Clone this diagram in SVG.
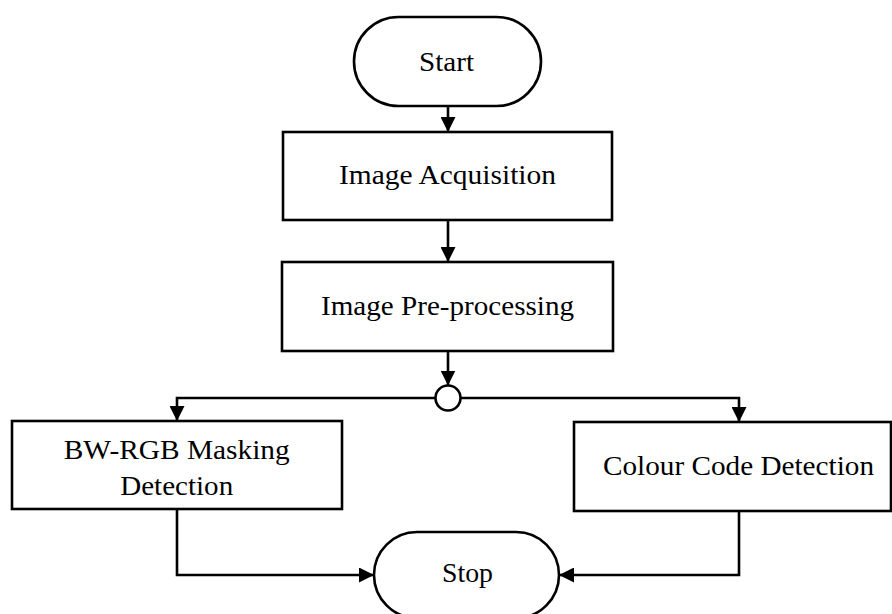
<svg xmlns="http://www.w3.org/2000/svg" width="892" height="614" viewBox="0 0 892 614">
<defs>
<style>
.shape{fill:#fff;stroke:#000;stroke-width:2.6}
.lbl{font-family:"Liberation Serif","Times New Roman",serif;font-size:27px;fill:#000;text-anchor:middle}
.conn{fill:none;stroke:#000;stroke-width:2.6}
</style>
<marker id="arr" markerUnits="userSpaceOnUse" markerWidth="15" markerHeight="15" refX="15" refY="7.5" orient="auto">
<path d="M0,0 L15,7.5 L0,15 z" fill="#000"/>
</marker>
</defs>
<rect width="892" height="614" fill="#fff"/>
<g id="connectors">
<path class="conn" d="M448,106 V132" marker-end="url(#arr)"/>
<path class="conn" d="M448,220 V262" marker-end="url(#arr)"/>
<path class="conn" d="M448,351 V385.5" marker-end="url(#arr)"/>
<path class="conn" d="M435.5,398 H177 V421" marker-end="url(#arr)"/>
<path class="conn" d="M460.5,398 H739 V422" marker-end="url(#arr)"/>
<path class="conn" d="M177,509 V575 H374" marker-end="url(#arr)"/>
<path class="conn" d="M739,511 V575 H559" marker-end="url(#arr)"/>
</g>
<g id="start">
<rect class="shape" x="354" y="17" width="187" height="89" rx="44.5" ry="44.5"/>
<text class="lbl" x="446.5" y="71" textLength="55" lengthAdjust="spacingAndGlyphs">Start</text>
</g>
<g id="acquisition">
<rect class="shape" x="283" y="132" width="329" height="88"/>
<text class="lbl" x="447.5" y="184" textLength="217" lengthAdjust="spacingAndGlyphs">Image Acquisition</text>
</g>
<g id="preprocessing">
<rect class="shape" x="282" y="262" width="331" height="89"/>
<text class="lbl" x="447.5" y="315" textLength="253" lengthAdjust="spacingAndGlyphs">Image Pre-processing</text>
</g>
<g id="junction">
<circle class="shape" cx="448" cy="398" r="12.5"/>
</g>
<g id="bwrgb">
<rect class="shape" x="12" y="421" width="330" height="88"/>
<text class="lbl" x="176.7" y="459" textLength="226" lengthAdjust="spacingAndGlyphs">BW-RGB Masking</text>
<text class="lbl" x="176.7" y="495" textLength="113" lengthAdjust="spacingAndGlyphs">Detection</text>
</g>
<g id="colour">
<rect class="shape" x="574" y="422" width="317" height="89"/>
<text class="lbl" x="738.5" y="475" textLength="271" lengthAdjust="spacingAndGlyphs">Colour Code Detection</text>
</g>
<g id="stop">
<rect class="shape" x="374" y="532" width="185" height="86" rx="43" ry="43"/>
<text class="lbl" x="467.5" y="582" textLength="51" lengthAdjust="spacingAndGlyphs">Stop</text>
</g>
</svg>
